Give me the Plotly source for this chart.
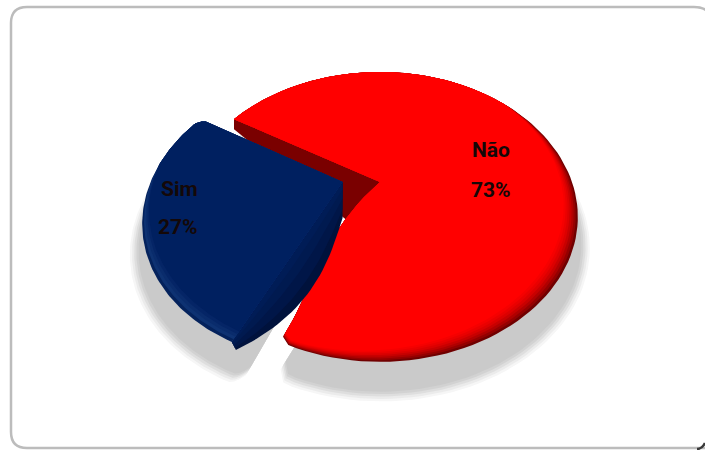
import math
import plotly.graph_objects as go

# Share of answers, in drawing order
categories = ["Sim", "Não"]
shares = [27, 73]

# Scene set-up: the disc is a unit circle seen in perspective
END_DEG = 246.0        # where the Sim slice ends, sweeping anticlockwise
APEX = (380.0, 182.0)
SCALE_X, SCALE_Y, TILT = 192.0, 136.5, 0.241
SIM_PULL = -0.195      # how far the Sim slice is pulled out, in disc units

PAGE_W, PAGE_H = 705, 450


def project(u, v):
    s = 1.0 / (1.0 + TILT * v)
    return APEX[0] + SCALE_X * u * s, APEX[1] - SCALE_Y * v * s


def arc_angles(a0, a1, n=120):
    return [a0 + (a1 - a0) * i / n for i in range(n + 1)]


def rim_weight(deg, peak, floor):
    return max(0.0, math.cos(math.radians(deg - peak)) + floor) / (1.0 + floor)


def corner_trim(d, span, depth):
    """Radius loss that rounds an outer corner of a slice."""
    return depth * (1 - d / span) ** 2 if d < span else 0.0


def sector(a0, a1, shift=0.0, radius=1.0, rim=0.0, peak=-50.0, floor=0.15, trim0=0.0, trim1=0.0):
    """Outline of a slice, optionally with its outer edge pulled in on the lit side."""
    ox, oy = project(shift, 0)
    xs, ys = [ox], [oy]
    for a in arc_angles(a0, a1):
        r = radius - rim * rim_weight(a, peak, floor)
        r -= corner_trim(a - a0, 3.0, trim0) + corner_trim(a1 - a, 3.0, trim1)
        x, y = project(shift + r * math.cos(math.radians(a)), r * math.sin(math.radians(a)))
        xs.append(x)
        ys.append(y)
    return xs, ys


def add_poly(fig, xs, ys, color):
    fig.add_trace(go.Scatter(
        x=list(xs) + [xs[0]], y=list(ys) + [ys[0]], mode="lines", fill="toself",
        fillcolor=color, line=dict(color=color, width=0), hoverinfo="skip", showlegend=False,
    ))


total = sum(shares)
sim_sweep = 360.0 * shares[0] / total
sim_a1 = END_DEG
sim_a0 = sim_a1 - sim_sweep
nao_a0 = sim_a1 - 360.0
nao_a1 = sim_a0

fig = go.Figure()

# Soft ground shadows
shadow_steps = [(1.052, "#f6f6f6"), (1.042, "#ebebeb"), (1.032, "#dedede"), (1.022, "#d2d2d2"), (1.012, "#cacaca")]
for radius, col in shadow_steps:
    xs, ys = sector(sim_a0, sim_a1 + 4, shift=SIM_PULL, radius=radius + 0.005, trim1=0.05)
    add_poly(fig, xs, [y + 26 for y in ys], col)
for radius, col in shadow_steps:
    xs, ys = sector(nao_a0, nao_a1, radius=radius, trim0=0.05)
    add_poly(fig, [x + 1 for x in xs], [y + 27 for y in ys], col)

# Inner wall of the Não slice, behind its top face
wall_xs, wall_ys = [], []
edge_end = project(math.cos(math.radians(nao_a1)), math.sin(math.radians(nao_a1)))
for i in range(21):
    t = i / 20
    wall_xs.append(edge_end[0] + (APEX[0] - edge_end[0]) * t)
    wall_ys.append(edge_end[1] + (APEX[1] - edge_end[1]) * t)
lower_xs = wall_xs[::-1]
lower_ys = [y + 10 + 55 * (x - edge_end[0]) / (APEX[0] - edge_end[0])
            for x, y in zip(wall_xs[::-1], wall_ys[::-1])]
add_poly(fig, wall_xs + lower_xs, wall_ys + lower_ys, "#7a0000")


def nao_outline(rim):
    xs, ys = sector(nao_a0, nao_a1, rim=rim, peak=-42.0, floor=-0.1, trim0=0.025)
    # the front cut face bows out slightly toward the other slice
    cut = []
    for i in range(1, 20):
        t = i / 20
        x = APEX[0] + (xs[1] - APEX[0]) * t - 80 * t * (1 - t) ** 2
        y = APEX[1] + (ys[1] - APEX[1]) * t
        cut.append((x, y))
    xs = [xs[0]] + [c[0] for c in cut] + xs[1:]
    ys = [ys[0]] + [c[1] for c in cut] + ys[1:]
    return xs, ys


# Top face of Não, darkening toward the front rim
nao_rim = ["#700000", "#940000", "#b00000", "#c80000", "#dc0000", "#ea0000", "#f60000", "#ff0000"]
for i, col in enumerate(nao_rim):
    xs, ys = nao_outline(0.08 * i / (len(nao_rim) - 1))
    add_poly(fig, xs, ys, col)

# Side wall of the pulled-out Sim slice, following its straight cut edge
sx0, sy0 = project(SIM_PULL, 0)
sx1, sy1 = project(SIM_PULL + math.cos(math.radians(sim_a1)), math.sin(math.radians(sim_a1)))
for depth, col in ((1.0, "#00123c"), (0.75, "#001648"), (0.45, "#001a50"), (0.2, "#001c56")):
    top_x, top_y, low_x, low_y = [], [], [], []
    for i in range(31):
        t = i / 30
        ex = sx0 + (sx1 - sx0) * t
        ey = sy0 + (sy1 - sy0) * t
        top_x.append(ex)
        top_y.append(ey)
        low_x.append(ex + depth * (4 * t + 18 * math.sin(math.pi * t)))
        low_y.append(ey + depth * (36 - 28 * t ** 3))
    add_poly(fig, top_x + low_x[::-1], top_y + low_y[::-1], col)

# Top face of Sim with a narrow bevel along the front of the arc
sim_rim = ["#04225c", "#0e3272", "#0a2c6c", "#052566", "#002060"]
for i, col in enumerate(sim_rim):
    xs, ys = sector(sim_a0, sim_a1, shift=SIM_PULL, rim=0.055 * i / (len(sim_rim) - 1),
                    peak=232.0, floor=-0.5, trim0=0.04)
    add_poly(fig, xs, ys, col)

# Percentage labels come straight from the shares
label_pos = {"Não": ((491, 150), (491, 190)), "Sim": ((179, 189), (178, 227))}
annotations = []
for name, share in zip(categories, shares):
    (nx, ny), (px, py) = label_pos[name]
    for text, x, y in ((name, nx, ny), (f"{share}%", px, py)):
        annotations.append(dict(
            x=x, y=y, text=f"<b>{text}</b>", showarrow=False, xref="x", yref="y",
            font=dict(family="Roboto", size=21, color="#140808"),
        ))

card = "M 27 7 L 694 7 Q 712 7 712 25 L 712 448 L 27 448 Q 11 448 11 432 L 11 23 Q 11 7 27 7 Z"
corner = "M 697 449 Q 702 449 705 443"
fig.update_layout(
    width=PAGE_W, height=PAGE_H, margin=dict(l=0, r=0, t=0, b=0),
    paper_bgcolor="white", plot_bgcolor="white", showlegend=False,
    xaxis=dict(range=[0, PAGE_W], visible=False, fixedrange=True),
    yaxis=dict(range=[PAGE_H, 0], visible=False, fixedrange=True),
    shapes=[
        dict(type="path", path=card, layer="below", line=dict(color="#bcbcbc", width=2.5), fillcolor="white"),
        dict(type="path", path=corner, layer="below", line=dict(color="#3a3a3a", width=2.5)),
    ],
    annotations=annotations,
)

fig.write_html("out.html", config={"displayModeBar": False})
